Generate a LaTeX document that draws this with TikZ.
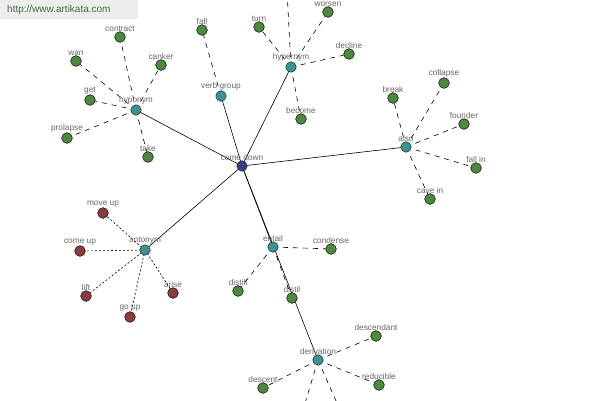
\documentclass[tikz,border=0pt]{standalone}
\usepackage{fontspec}
\setmainfont{Liberation Sans}
\definecolor{leafc}{HTML}{4B8A3C}
\definecolor{relc}{HTML}{3A9494}
\definecolor{antc}{HTML}{8C3A3C}
\definecolor{rootc}{HTML}{3C3C8E}
\begin{document}
\begin{tikzpicture}[x=1pt,y=-1pt,
  dot/.style={circle,draw=black!85,line width=0.5pt,minimum size=10.5pt,inner sep=0pt},
  leaf/.style={dot,fill=leafc},
  rel/.style={dot,fill=relc},
  ant/.style={dot,fill=antc},
  root/.style={dot,fill=rootc},
  lbl/.style={text=black!60,font=\fontsize{8.3}{9}\selectfont,inner sep=0.5pt},
  every label/.style={lbl},
  label distance=-0.5pt,
  solidedge/.style={line width=0.6pt},
  dashedge/.style={line width=0.6pt,dash pattern=on 5pt off 5pt},
  dotedge/.style={line width=0.6pt,dash pattern=on 2pt off 2pt}]
\useasboundingbox (0,0) rectangle (600,400);
\clip (0,0) rectangle (600,400);
% watermark
\fill[black!7] (0,0) rectangle (138,19);
\node[anchor=west,text=green!25!black!75,font=\fontsize{10}{11}\selectfont,inner sep=0pt] (wm) at (7,10) {http://www.artikata.com};
% relation node positions
\coordinate (cdp) at (242,166);
\coordinate (hyop) at (136,110);
\coordinate (vgp) at (221,96);
\coordinate (hyep) at (291,67);
\coordinate (alp) at (406,147);
\coordinate (anp) at (145,250);
\coordinate (enp) at (273,247);
\coordinate (dep) at (318,360);
% free ends outside the visible area
\coordinate (offup) at (287,-10);
\coordinate (offd1) at (303,410);
\coordinate (offd2) at (340,410);
% solid edges
\draw[solidedge] (cdp) -- (hyop);
\draw[solidedge] (cdp) -- (vgp);
\draw[solidedge] (cdp) -- (hyep);
\draw[solidedge] (cdp) -- (alp);
\draw[solidedge] (cdp) -- (anp);
\draw[solidedge] (cdp) -- (enp);
\draw[solidedge] (cdp) -- (dep);
% hyponym
\node[leaf,label=above:contract] (contract) at (120,37) {};
\node[leaf,label=above:wan] (wan) at (76,61) {};
\node[leaf,label=above:canker] (canker) at (161,65) {};
\node[leaf,label=above:get] (get) at (90,100) {};
\node[leaf,label=above:prolapse] (prolapse) at (67,138) {};
\node[leaf,label=above:take] (take) at (148,157) {};
% verb group
\node[leaf,label=above:fall] (fall) at (202,30) {};
% hypernym
\node[leaf,label=above:turn] (turn) at (259,27) {};
\node[leaf,label=above:worsen] (worsen) at (328,12) {};
\node[leaf,label=above:decline] (decline) at (349,54) {};
\node[leaf,label=above:become] (become) at (301,119) {};
% also
\node[leaf,label=above:break] (break) at (393,98) {};
\node[leaf,label=above:collapse] (collapse) at (444,83) {};
\node[leaf,label=above:founder] (founder) at (464,124) {};
\node[leaf,label=above:fall in] (fallin) at (476,168) {};
\node[leaf,label=above:cave in] (cavein) at (430,199) {};
% antonym
\node[ant,label=above:move up] (moveup) at (103,213) {};
\node[ant,label=above:come up] (comeup) at (80,251) {};
\node[ant,label=above:lift] (lift) at (86,296) {};
\node[ant,label=above:go up] (goup) at (130,317) {};
\node[ant,label=above:arise] (arise) at (173,293) {};
% entail
\node[leaf,label=above:condense] (condense) at (331,249) {};
\node[leaf,label=above:distill] (distill) at (238,291) {};
\node[leaf,label=above:distil] (distil) at (292,298) {};
% derivation
\node[leaf,label=above:descendant] (descendant) at (376,336) {};
\node[leaf,label=above:descent] (descent) at (263,388) {};
\node[leaf,label=above:reducible] (reducible) at (379,385) {};
% dashed / dotted edges
\foreach \t in {contract,wan,canker,get,prolapse,take} \draw[dashedge] (hyop) -- (\t);
\draw[dashedge] (vgp) -- (fall);
\foreach \t in {turn,worsen,decline,become,offup} \draw[dashedge] (hyep) -- (\t);
\foreach \t in {break,collapse,founder,fallin,cavein} \draw[dashedge] (alp) -- (\t);
\foreach \t in {moveup,comeup,lift,goup,arise} \draw[dotedge] (anp) -- (\t);
\foreach \t in {condense,distill,distil} \draw[dashedge] (enp) -- (\t);
\foreach \t in {descendant,descent,reducible,offd1,offd2} \draw[dashedge] (dep) -- (\t);
% relation nodes on top
\node[root,label=above:come down] (cd) at (cdp) {};
\node[rel,label=above:hyponym] (hyo) at (hyop) {};
\node[rel,label=above:verb group] (vg) at (vgp) {};
\node[rel,label=above:hypernym] (hye) at (hyep) {};
\node[rel,label=above:also] (al) at (alp) {};
\node[rel,label=above:antonym] (an) at (anp) {};
\node[rel,label=above:entail] (en) at (enp) {};
\node[rel,label=above:derivation] (de) at (dep) {};
% leaf discs again over the edge ends
\foreach \t in {contract,wan,canker,get,prolapse,take,fall,turn,worsen,decline,become,break,collapse,founder,fallin,cavein,condense,distill,distil,descendant,descent,reducible}
  \node[leaf] at (\t) {};
\foreach \t in {moveup,comeup,lift,goup,arise}
  \node[ant] at (\t) {};
\end{tikzpicture}
\end{document}
